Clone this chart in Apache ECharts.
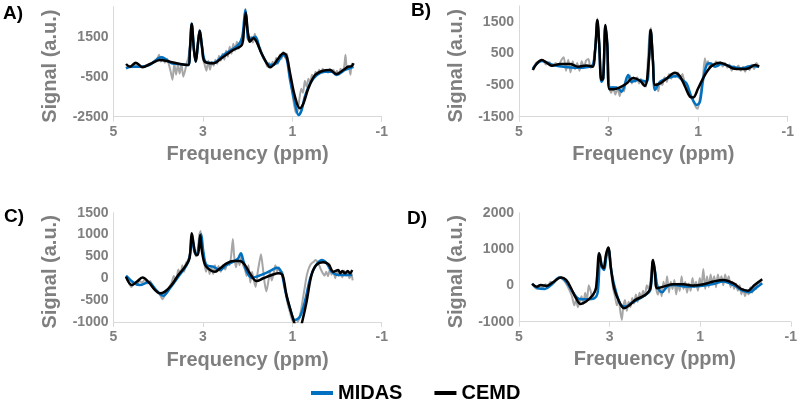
<!DOCTYPE html>
<html>
<head>
<meta charset="utf-8">
<script src="https://cdn.jsdelivr.net/npm/echarts@6/dist/echarts.min.js"></script>
<style>
html,body{margin:0;padding:0;background:#fff;}
#chart{width:800px;height:400px;}
</style>
</head>
<body>
<div id="chart"></div>
<script>
// ---- data: [ppm, signal] ----
const panelLabels = ['A)', 'B)', 'C)', 'D)'];
const seriesNames = ['MIDAS', 'CEMD'];
const xTicks = [5, 3, 1, -1];
const yRangeA = [-2500, 3000, 2000];
const yRangeB = [-1500, 2000, 1000];
const yRangeC = [-1000, 1500, 500];
const yRangeD = [-1000, 2000, 1000];

const aRaw = [[4.72,-50],[4.65,50],[4.58,-30],[4.50,120],[4.42,-20],[4.35,0],[4.28,60],[4.20,120],[4.12,200],[4.05,250],[3.98,600],[3.94,250],[3.90,500],[3.85,200],[3.80,400],[3.76,100],[3.72,-250],[3.68,-650],[3.64,150],[3.60,-400],[3.56,100],[3.52,-350],[3.48,150],[3.44,-500],[3.40,-200],[3.36,200],[3.32,500],[3.28,1400],[3.25,2200],[3.22,1400],[3.19,500],[3.16,300],[3.12,1100],[3.08,1850],[3.04,1200],[3.00,400],[2.96,100],[2.92,-200],[2.88,300],[2.84,-150],[2.80,250],[2.76,50],[2.72,350],[2.68,150],[2.64,550],[2.60,300],[2.56,650],[2.52,350],[2.48,800],[2.44,500],[2.40,1000],[2.36,650],[2.32,1150],[2.28,800],[2.24,1250],[2.20,900],[2.16,1100],[2.12,1300],[2.08,2000],[2.05,2900],[2.02,2400],[1.99,1700],[1.96,1300],[1.92,1500],[1.88,1200],[1.84,1650],[1.80,1300],[1.76,1000],[1.72,950],[1.68,600],[1.64,400],[1.60,250],[1.56,0],[1.52,200],[1.48,-50],[1.44,250],[1.40,100],[1.36,450],[1.32,150],[1.28,600],[1.24,400],[1.20,750],[1.16,450],[1.12,650],[1.08,100],[1.04,-600],[1.00,-1300],[0.96,-1900],[0.92,-2300],[0.88,-2200],[0.84,-1600],[0.80,-1100],[0.76,-1300],[0.72,-700],[0.68,-1000],[0.64,-600],[0.60,-800],[0.56,-400],[0.52,-550],[0.48,-250],[0.44,-400],[0.40,-150],[0.36,-300],[0.32,-100],[0.28,-250],[0.24,-150],[0.20,-300],[0.16,-100],[0.12,-250],[0.08,-150],[0.04,-350],[0.00,-200],[-0.04,-400],[-0.08,-100],[-0.12,-250],[-0.16,0],[-0.19,600],[-0.22,-100],[-0.26,50],[-0.30,-400],[-0.33,150],[-0.37,100]];
const aMidas = [[4.72,-80],[4.60,0],[4.40,0],[4.20,80],[3.93,470],[3.70,170],[3.50,120],[3.33,80],[3.29,850],[3.25,2150],[3.20,850],[3.16,250],[3.11,1150],[3.07,1800],[3.02,1000],[2.94,250],[2.77,180],[2.54,590],[2.21,1085],[2.12,1500],[2.08,2300],[2.05,2835],[2.01,1900],[1.98,1335],[1.83,1500],[1.72,835],[1.57,170],[1.50,85],[1.35,170],[1.20,585],[1.13,420],[1.05,-665],[0.94,-1830],[0.86,-2415],[0.79,-2165],[0.72,-1500],[0.60,-830],[0.45,-415],[0.27,-250],[0.12,-250],[0.01,-415],[-0.18,-165],[-0.37,0]];
const aCemd = [[4.72,135],[4.63,0],[4.50,200],[4.35,-30],[4.18,135],[3.96,335],[3.74,250],[3.51,135],[3.33,85],[3.29,835],[3.25,2135],[3.20,835],[3.16,250],[3.11,1170],[3.07,1800],[3.02,1000],[2.96,250],[2.77,170],[2.54,500],[2.32,835],[2.13,1085],[2.08,1900],[2.04,2700],[2.00,1800],[1.97,1420],[1.95,1250],[1.87,1420],[1.80,1250],[1.69,670],[1.57,170],[1.50,-30],[1.42,85],[1.31,420],[1.20,670],[1.13,535],[1.05,-330],[0.94,-1500],[0.83,-2080],[0.75,-1830],[0.64,-1080],[0.49,-415],[0.31,-200],[0.16,-165],[0.01,-365],[-0.14,-165],[-0.25,0],[-0.33,35],[-0.37,170]];

const bRaw = [[4.70,-20],[4.62,200],[4.55,250],[4.48,300],[4.40,150],[4.32,220],[4.25,100],[4.18,200],[4.12,120],[4.05,300],[4.00,380],[3.95,-50],[3.90,300],[3.85,-100],[3.80,250],[3.75,0],[3.70,200],[3.65,-50],[3.60,250],[3.55,50],[3.50,280],[3.45,320],[3.40,50],[3.36,100],[3.30,650],[3.25,1600],[3.21,850],[3.16,-350],[3.12,-250],[3.07,1400],[3.03,800],[2.98,-600],[2.94,-750],[2.90,-550],[2.85,-800],[2.80,-600],[2.75,-850],[2.70,-550],[2.65,-700],[2.60,-250],[2.56,-400],[2.52,-200],[2.48,-450],[2.44,-250],[2.40,-400],[2.36,-250],[2.32,-450],[2.28,-300],[2.24,-500],[2.20,-400],[2.16,-550],[2.12,400],[2.08,1200],[2.05,1300],[2.01,300],[1.97,-600],[1.93,-450],[1.89,-700],[1.85,-400],[1.80,-500],[1.75,-250],[1.70,-400],[1.65,-150],[1.60,-300],[1.55,-150],[1.50,-250],[1.45,-100],[1.40,-300],[1.35,-150],[1.30,-450],[1.25,-500],[1.20,-750],[1.15,-900],[1.10,-1050],[1.05,-1200],[1.01,-1250],[0.97,-1000],[0.93,-600],[0.89,-200],[0.85,350],[0.82,150],[0.78,250],[0.74,50],[0.70,200],[0.65,100],[0.60,250],[0.55,100],[0.50,220],[0.45,80],[0.40,200],[0.35,50],[0.30,150],[0.25,-50],[0.20,100],[0.15,0],[0.10,120],[0.05,-50],[0.00,80],[-0.05,-80],[-0.10,100],[-0.15,-30],[-0.20,150],[-0.25,0],[-0.30,200],[-0.36,80]];
const bMidas = [[4.69,26],[4.49,258],[4.23,132],[4.01,79],[3.71,47],[3.38,100],[3.30,600],[3.25,1530],[3.21,800],[3.16,-395],[3.12,-300],[3.07,1360],[3.03,780],[2.97,-574],[2.82,-574],[2.71,-711],[2.56,-184],[2.49,-395],[2.34,-342],[2.15,-395],[2.10,300],[2.06,1200],[2.01,250],[1.96,-658],[1.85,-395],[1.70,-290],[1.48,-216],[1.37,-321],[1.26,-448],[1.15,-869],[1.03,-1132],[0.96,-1027],[0.89,-342],[0.81,132],[0.74,185],[0.62,79],[0.48,163],[0.25,79],[0.03,26],[-0.19,100],[-0.36,79]];
const bCemd = [[4.69,-25],[4.61,165],[4.49,290],[4.38,205],[4.27,110],[4.08,165],[3.86,165],[3.68,80],[3.49,120],[3.36,80],[3.30,605],[3.25,1555],[3.21,815],[3.16,-340],[3.12,-290],[3.07,1395],[3.03,815],[2.98,-635],[2.89,-635],[2.75,-575],[2.60,-450],[2.45,-280],[2.30,-365],[2.19,-530],[2.10,290],[2.06,1240],[2.01,290],[1.96,-500],[1.85,-450],[1.70,-290],[1.52,-110],[1.41,-215],[1.29,-555],[1.18,-870],[1.11,-890],[1.00,-605],[0.85,-185],[0.70,100],[0.51,205],[0.36,130],[0.22,25],[0.03,5],[-0.12,25],[-0.27,130],[-0.36,80]];

const cRaw = [[4.72,30],[4.66,-100],[4.60,-200],[4.54,-120],[4.48,-150],[4.42,-60],[4.36,-100],[4.30,-30],[4.24,-120],[4.18,-60],[4.12,-200],[4.06,-250],[4.00,-320],[3.95,-400],[3.90,-480],[3.85,-380],[3.80,-300],[3.75,-200],[3.70,-100],[3.65,50],[3.60,-50],[3.55,200],[3.50,100],[3.46,300],[3.42,150],[3.38,350],[3.34,400],[3.30,500],[3.26,950],[3.23,1000],[3.20,700],[3.16,500],[3.12,600],[3.08,1000],[3.05,1080],[3.01,650],[2.97,350],[2.93,150],[2.89,300],[2.85,100],[2.81,250],[2.77,100],[2.73,300],[2.69,150],[2.65,280],[2.60,150],[2.55,300],[2.50,200],[2.45,350],[2.40,300],[2.36,600],[2.33,900],[2.30,500],[2.26,250],[2.22,450],[2.18,300],[2.14,500],[2.10,300],[2.06,200],[2.02,50],[1.98,300],[1.94,-100],[1.90,150],[1.86,-50],[1.82,-200],[1.78,100],[1.74,350],[1.70,550],[1.66,250],[1.62,-100],[1.58,-300],[1.54,-100],[1.50,150],[1.46,-50],[1.42,100],[1.38,300],[1.34,150],[1.30,250],[1.26,100],[1.22,150],[1.18,-150],[1.14,-400],[1.10,-600],[1.06,-750],[1.02,-900],[0.98,-1000],[0.92,-1050],[0.88,-1000],[0.84,-900],[0.80,-700],[0.76,-450],[0.72,-200],[0.68,50],[0.64,200],[0.60,300],[0.56,350],[0.52,380],[0.48,420],[0.44,380],[0.40,300],[0.36,200],[0.32,120],[0.28,60],[0.24,150],[0.20,50],[0.16,200],[0.12,80],[0.08,150],[0.04,0],[0.00,180],[-0.04,60],[-0.08,130],[-0.12,20],[-0.16,180],[-0.20,60],[-0.24,100],[-0.28,0],[-0.32,120],[-0.35,-50]];
const cMidas = [[4.72,59],[4.56,-93],[4.41,-154],[4.22,-93],[4.03,-292],[3.89,-398],[3.74,-231],[3.55,37],[3.36,304],[3.29,533],[3.24,914],[3.19,609],[3.14,533],[3.09,761],[3.04,1006],[2.99,609],[2.92,304],[2.77,265],[2.62,189],[2.47,304],[2.32,380],[2.21,456],[2.15,571],[2.10,418],[2.02,151],[1.91,14],[1.76,52],[1.61,113],[1.46,189],[1.35,243],[1.25,151],[1.16,-269],[1.05,-688],[0.94,-955],[0.83,-879],[0.72,-536],[0.60,0],[0.49,265],[0.34,418],[0.23,342],[0.12,151],[-0.03,75],[-0.18,75],[-0.34,75]];
const cCemd = [[4.72,35],[4.59,-155],[4.48,-80],[4.35,15],[4.22,-80],[4.07,-270],[3.96,-345],[3.85,-305],[3.70,-155],[3.55,75],[3.40,265],[3.30,455],[3.25,1030],[3.20,725],[3.15,535],[3.11,535],[3.06,990],[3.02,610],[2.95,305],[2.84,190],[2.73,150],[2.62,225],[2.47,340],[2.32,395],[2.17,395],[2.06,305],[1.95,115],[1.80,-65],[1.65,0],[1.46,75],[1.31,115],[1.22,75],[1.13,-385],[1.03,-765],[0.96,-1000],[0.87,-1350],[0.78,-1000],[0.68,-535],[0.57,75],[0.46,305],[0.31,365],[0.19,320],[0.08,150],[-0.03,190],[-0.07,115],[-0.12,165],[-0.18,115],[-0.24,165],[-0.29,115],[-0.34,190]];

const dRaw = [[4.71,50],[4.66,-50],[4.60,-100],[4.54,20],[4.48,-80],[4.42,30],[4.36,0],[4.30,100],[4.24,60],[4.18,150],[4.12,220],[4.06,200],[4.00,120],[3.94,0],[3.88,-150],[3.83,-300],[3.78,-550],[3.74,-400],[3.70,-600],[3.66,-450],[3.62,-300],[3.58,-500],[3.54,-200],[3.50,-400],[3.46,0],[3.42,-150],[3.38,-350],[3.34,-200],[3.30,-50],[3.26,500],[3.23,850],[3.19,550],[3.15,450],[3.11,650],[3.07,900],[3.04,1000],[3.00,700],[2.96,300],[2.92,-100],[2.88,-300],[2.84,-550],[2.80,-400],[2.76,-750],[2.73,-950],[2.70,-600],[2.66,-400],[2.62,-700],[2.58,-450],[2.54,-600],[2.50,-350],[2.46,-500],[2.42,-250],[2.38,-450],[2.34,-200],[2.30,-350],[2.26,-150],[2.22,-300],[2.18,0],[2.14,-100],[2.10,100],[2.06,600],[2.04,650],[2.01,300],[1.97,-100],[1.93,-250],[1.89,-50],[1.85,-300],[1.81,100],[1.77,-100],[1.73,250],[1.69,-200],[1.65,100],[1.61,-100],[1.57,150],[1.53,-250],[1.49,50],[1.45,-150],[1.41,250],[1.37,-100],[1.33,100],[1.29,-200],[1.25,50],[1.21,-150],[1.17,200],[1.13,-50],[1.09,100],[1.05,-150],[1.01,200],[0.97,0],[0.93,450],[0.89,-100],[0.85,250],[0.81,-50],[0.77,300],[0.73,50],[0.69,250],[0.65,-50],[0.61,300],[0.57,100],[0.53,250],[0.49,0],[0.45,300],[0.41,100],[0.37,250],[0.33,-50],[0.29,100],[0.25,-100],[0.21,50],[0.17,-150],[0.13,0],[0.09,-250],[0.05,-100],[0.01,-300],[-0.03,-150],[-0.07,-250],[-0.11,-50],[-0.15,-200],[-0.19,0],[-0.23,-100],[-0.27,100],[-0.31,50],[-0.35,150]];
const dMidas = [[4.71,39],[4.58,-80],[4.43,-98],[4.29,12],[4.10,214],[3.96,104],[3.81,-190],[3.67,-374],[3.52,-383],[3.34,-355],[3.26,-172],[3.21,838],[3.17,517],[3.12,425],[3.07,792],[3.02,976],[2.96,379],[2.86,-172],[2.75,-539],[2.64,-585],[2.53,-493],[2.39,-401],[2.21,-264],[2.10,-126],[2.04,654],[1.99,333],[1.94,-34],[1.84,-190],[1.73,-34],[1.59,12],[1.29,-34],[1.00,-16],[0.71,39],[0.49,104],[0.27,12],[0.05,-153],[-0.09,-190],[-0.24,-62],[-0.37,58]];
const dCemd = [[4.71,40],[4.61,-35],[4.52,10],[4.39,-15],[4.25,85],[4.07,215],[3.96,150],[3.85,-80],[3.74,-355],[3.64,-510],[3.52,-445],[3.37,-265],[3.30,-80],[3.23,885],[3.18,565],[3.13,470],[3.08,840],[3.03,1040],[2.97,470],[2.90,-80],[2.79,-445],[2.68,-630],[2.57,-555],[2.43,-400],[2.28,-310],[2.17,-220],[2.10,-80],[2.04,700],[2.00,380],[1.95,-80],[1.81,-35],[1.59,30],[1.37,30],[1.15,-5],[0.93,30],[0.71,105],[0.49,150],[0.27,60],[0.09,-100],[-0.05,-145],[-0.20,10],[-0.37,170]];

// ---- layout ----
const FONT = 'Liberation Sans, Arial, sans-serif';
const GRAY_TXT = '#7f7f7f';
const AXIS_LINE = '#d9d9d9';
const grids = [
  {left: 113.5, top: 6.7, width: 268.2, height: 110},
  {left: 519, top: 5.9, width: 268.7, height: 110.8},
  {left: 113.5, top: 212.7, width: 268.2, height: 109.3},
  {left: 519, top: 212.7, width: 274.3, height: 109}
];
const yRanges = [yRangeA, yRangeB, yRangeC, yRangeD];
const panelData = [[aRaw, aMidas, aCemd], [bRaw, bMidas, bCemd], [cRaw, cMidas, cCemd], [dRaw, dMidas, dCemd]];
const plain = v => String(v);

const xAxes = grids.map((g, i) => ({
  gridIndex: i, type: 'value', inverse: true,
  min: Math.min(...xTicks), max: Math.max(...xTicks), interval: xTicks[0] - xTicks[1],
  axisLine: {show: true, onZero: false, lineStyle: {color: AXIS_LINE, width: 1}},
  axisTick: {show: true, length: 5, lineStyle: {color: AXIS_LINE}},
  splitLine: {show: false},
  axisLabel: {color: GRAY_TXT, fontWeight: 'bold', fontSize: 14, fontFamily: FONT, margin: 8, formatter: plain},
  name: 'Frequency (ppm)', nameLocation: 'middle', nameGap: 28,
  nameTextStyle: {color: GRAY_TXT, fontWeight: 'bold', fontSize: 20, fontFamily: FONT}
}));
const yAxes = grids.map((g, i) => ({
  gridIndex: i, type: 'value',
  min: yRanges[i][0], max: yRanges[i][1], interval: yRanges[i][2],
  axisLine: {show: true, onZero: false, lineStyle: {color: AXIS_LINE, width: 1}},
  axisTick: {show: false},
  splitLine: {show: false},
  axisLabel: {color: GRAY_TXT, fontWeight: 'bold', fontSize: 14, fontFamily: FONT, margin: 5, formatter: plain,
    showMaxLabel: (yRanges[i][1] - yRanges[i][0]) % yRanges[i][2] === 0},
  name: 'Signal (a.u.)', nameLocation: 'middle', nameGap: 53,
  nameTextStyle: {color: GRAY_TXT, fontWeight: 'bold', fontSize: 20, fontFamily: FONT, padding: [0, 9, 0, 0]}
}));

const series = [];
panelData.forEach((p, i) => {
  series.push({name: 'Raw', type: 'line', xAxisIndex: i, yAxisIndex: i, data: p[0], showSymbol: false, symbol: 'none', smooth: 0.2,
    lineStyle: {color: '#a6a6a6', width: 2}, itemStyle: {color: '#a6a6a6'}, z: 1});
  series.push({name: seriesNames[0], type: 'line', xAxisIndex: i, yAxisIndex: i, data: p[1], showSymbol: false, symbol: 'none', smooth: 0.35,
    lineStyle: {color: '#0070C0', width: 2.5}, itemStyle: {color: '#0070C0'}, z: 2});
  series.push({name: seriesNames[1], type: 'line', xAxisIndex: i, yAxisIndex: i, data: p[2], showSymbol: false, symbol: 'none', smooth: 0.35,
    lineStyle: {color: '#000000', width: 2.5}, itemStyle: {color: '#000000'}, z: 3});
});

const labelPos = [[3, 4], [411, 1], [4, 207], [407, 209]];
const graphics = panelLabels.map((t, i) => ({
  type: 'text', left: labelPos[i][0], top: labelPos[i][1],
  style: {text: t, fill: '#000', font: 'bold 19px ' + FONT}
}));

const chart = echarts.init(document.getElementById('chart'), null, {renderer: 'canvas'});
chart.setOption({
  animation: false,
  backgroundColor: '#ffffff',
  grid: grids.map(g => Object.assign({containLabel: false}, g)),
  xAxis: xAxes,
  yAxis: yAxes,
  legend: {
    data: seriesNames.map(n => ({name: n, icon: 'rect'})),
    left: 306, top: 378, itemWidth: 22, itemHeight: 4, itemGap: 32,
    textStyle: {color: '#000', fontWeight: 'bold', fontSize: 20, fontFamily: FONT},
    selectedMode: false
  },
  graphic: graphics,
  series: series
});
</script>
</body>
</html>
